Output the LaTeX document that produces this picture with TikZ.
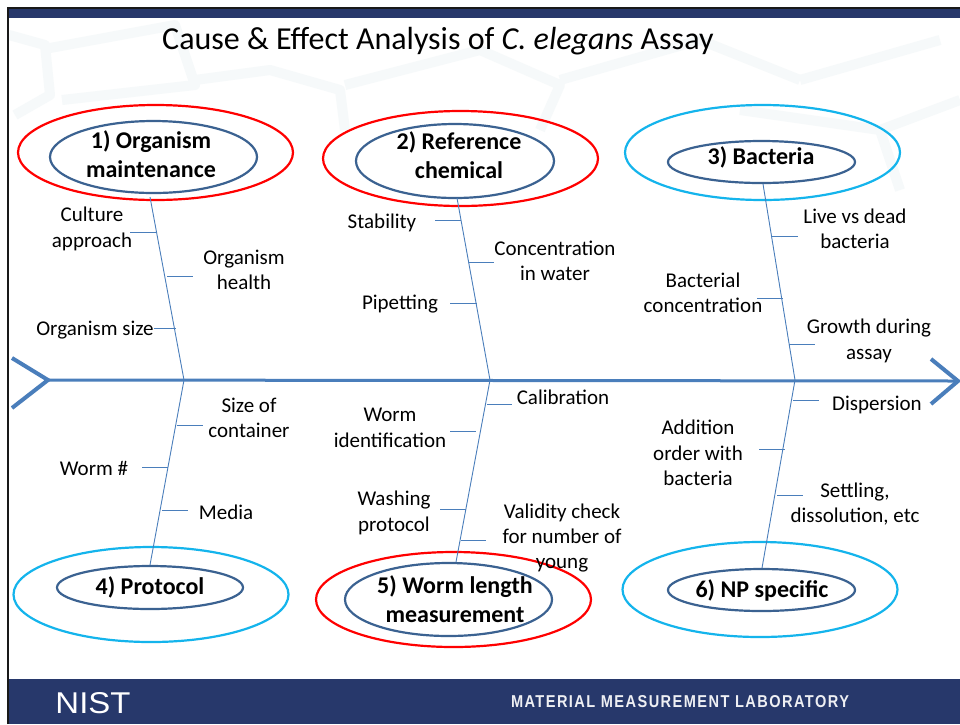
\documentclass[tikz,border=0pt]{standalone}
\usepackage{fontspec}
\usepackage{graphicx}
\setmainfont{Carlito}
\newfontfamily\labfont[LetterSpace=10]{Liberation Sans}
\newfontfamily\logofont{Liberation Sans}
\definecolor{navy}{HTML}{27386B}
\definecolor{spine}{HTML}{4A7EBB}
\definecolor{inner}{HTML}{3B6291}
\definecolor{cyanring}{HTML}{14B4EC}
\definecolor{hexc}{HTML}{F6F9FA}
\tikzset{
 lab/.style={font=\fontsize{21}{25.5}\selectfont,align=center,inner sep=0pt,text=black},
 head/.style={font=\fontsize{24}{29}\selectfont\bfseries,align=center,inner sep=0pt,text=black},
 redring/.style={ellipse,draw=red,line width=2.2pt,inner sep=0pt,minimum width=275pt,minimum height=95pt},
 bluering/.style={ellipse,draw=cyanring,line width=2.2pt,inner sep=0pt,minimum width=275pt,minimum height=95pt},
 innerring/.style={ellipse,draw=inner,line width=2.2pt,inner sep=0pt},
 bone/.style={draw=spine,line width=0.9pt},
 hex/.style={draw=hexc,line width=10pt,line join=round},
}
\usetikzlibrary{shapes.geometric}
\begin{document}
\begin{tikzpicture}[x=1pt,y=-1pt]
\useasboundingbox (0,0) rectangle (960,724);
\fill[white] (0,0) rectangle (960,724);
% faint background
\begin{scope}
\clip (9,18) rectangle (960,678);
\draw[hex] (9,35) -- (45,45) -- (50,95) -- (15,115);
\draw[hex] (50,48) -- (175,25) -- (195,85) -- (62,100);
\draw[hex] (195,80) -- (270,70) -- (340,90) -- (345,130);
\draw[hex] (345,85) -- (480,50) -- (560,85) -- (540,130);
\draw[hex] (560,80) -- (700,40) -- (800,80);
\draw[hex] (800,80) -- (940,40);
\draw[hex] (740,110) -- (880,130) -- (960,100);
\draw[hex] (880,130) -- (900,190);
\end{scope}
% frame
\fill[navy] (8,9) rectangle (960,18);
\fill[navy] (8,679) rectangle (960,724);
\draw[black!90,line width=2pt] (8,724) -- (8,8) -- (960,8);
% title
\node[font=\fontsize{32}{36}\selectfont,anchor=base west,inner sep=0pt] (title) at (162,49) {Cause \& Effect Analysis of \textit{C. elegans} Assay};
% spine
\coordinate (tailT) at (12,358);
\coordinate (tailB) at (12,408);
\coordinate (tailM) at (48,380);
\coordinate (headT) at (931,359);
\coordinate (headB) at (931,404);
\coordinate (headM) at (958,381);
\draw[spine,line width=3pt] (tailM) -- (headM);
\draw[spine,line width=4pt] (tailT) -- (tailM) -- (tailB);
\draw[spine,line width=4pt] (headT) -- (headM) -- (headB);
% rings
\node[redring] (r1) at (155.5,152.5) {};
\node[innerring,minimum width=207pt,minimum height=72pt] (o1) at (153.5,157) {};
\node[head] (t1) at (151,154) {1) Organism\\maintenance};
\node[redring] (r2) at (460.5,158.5) {};
\node[innerring,minimum width=198pt,minimum height=74pt] (o2) at (455,161) {};
\node[head] (t2) at (459,155) {2) Reference\\chemical};
\node[bluering] (r3) at (762.5,152.5) {};
\node[innerring,minimum width=187pt,minimum height=42pt] (o3) at (761.5,162) {};
\node[head] (t3) at (761,157) {3) Bacteria};
\node[bluering] (r4) at (151,594.5) {};
\node[innerring,minimum width=186pt,minimum height=43pt] (o4) at (150,587.5) {};
\node[head] (t4) at (150,587) {4) Protocol};
\node[redring] (r5) at (453.5,599.5) {};
\node[innerring,minimum width=207pt,minimum height=73pt] (o5) at (448.5,599.5) {};
\node[head] (t5) at (455,599) {5) Worm length\\measurement};
\node[bluering] (r6) at (760,589.5) {};
\node[innerring,minimum width=187pt,minimum height=42pt] (o6) at (761.5,590) {};
\node[head] (t6) at (762,590) {6) NP specific};
% main bones
\coordinate (j1) at (184,380);\coordinate (j2) at (490,380);\coordinate (j3) at (795,380);
\draw[bone] (150,197) -- (j1);
\draw[bone] (457,198) -- (j2);
\draw[bone] (763,184) -- (j3);
\draw[bone] (j1) -- (150,565);
\draw[bone] (j2) -- (456,562);
\draw[bone] (j3) -- (762,568);
% twigs and labels
\node[lab] (a1) at (92,229) {Culture\\approach};
\draw[bone] (130,232) -- (157,232);
\node[lab] (a2) at (244,270) {Organism\\health};
\draw[bone] (167,276) -- (193,276);
\node[lab] (a3) at (95,330) {Organism size};
\draw[bone] (154,328) -- (176,328);
\node[lab] (b1) at (382,223) {Stability};
\draw[bone] (435,220) -- (461,220);
\node[lab] (b2) at (555,261) {Concentration\\in water};
\draw[bone] (469,262) -- (494,262);
\node[lab] (b3) at (400,304) {Pipetting};
\draw[bone] (450,303) -- (477,303);
\node[lab] (c1) at (855,229) {Live vs dead\\bacteria};
\draw[bone] (771,236) -- (798,236);
\node[lab] (c2) at (703,293) {Bacterial\\concentration};
\draw[bone] (757,298) -- (783,298);
\node[lab] (c3) at (869,341) {Growth during\\assay};
\draw[bone] (789,344) -- (815,344);
\node[lab] (d1) at (249,418) {Size of\\container};
\draw[bone] (177,425) -- (203,425);
\node[lab] (d2) at (94,468) {Worm \#};
\draw[bone] (142,467) -- (168,467);
\node[lab] (d3) at (226,512) {Media};
\draw[bone] (162,510) -- (188,510);
\node[lab] (e1) at (563,397) {Calibration};
\draw[bone] (487,404) -- (512,404);
\node[lab] (e2) at (390,428) {Worm\\identification};
\draw[bone] (450,431) -- (476,431);
\node[lab] (e3) at (394,513) {Washing\\protocol};
\draw[bone] (440,509) -- (466,509);
\node[lab] (e4) at (562,538) {Validity check\\for number of\\young};
\draw[bone] (461,540) -- (486,540);
\node[lab] (f1) at (877,405) {Dispersion};
\draw[bone] (793,400) -- (819,400);
\node[lab] (f2) at (698,453) {Addition\\order with\\bacteria};
\draw[bone] (759,449) -- (785,449);
\node[lab] (f3) at (855,504) {Settling,\\dissolution, etc};
\draw[bone] (777,495) -- (803,495);
% footer
\node[text=white,inner sep=0pt,anchor=center] (nist) at (93,703.5) {\resizebox{75pt}{21pt}{\logofont NIST}};
\node[text=white!92!navy,inner sep=0pt,anchor=center] (mml) at (680,702) {\resizebox{338pt}{12pt}{\labfont\bfseries MATERIAL MEASUREMENT LABORATORY}};
\end{tikzpicture}
\end{document}
